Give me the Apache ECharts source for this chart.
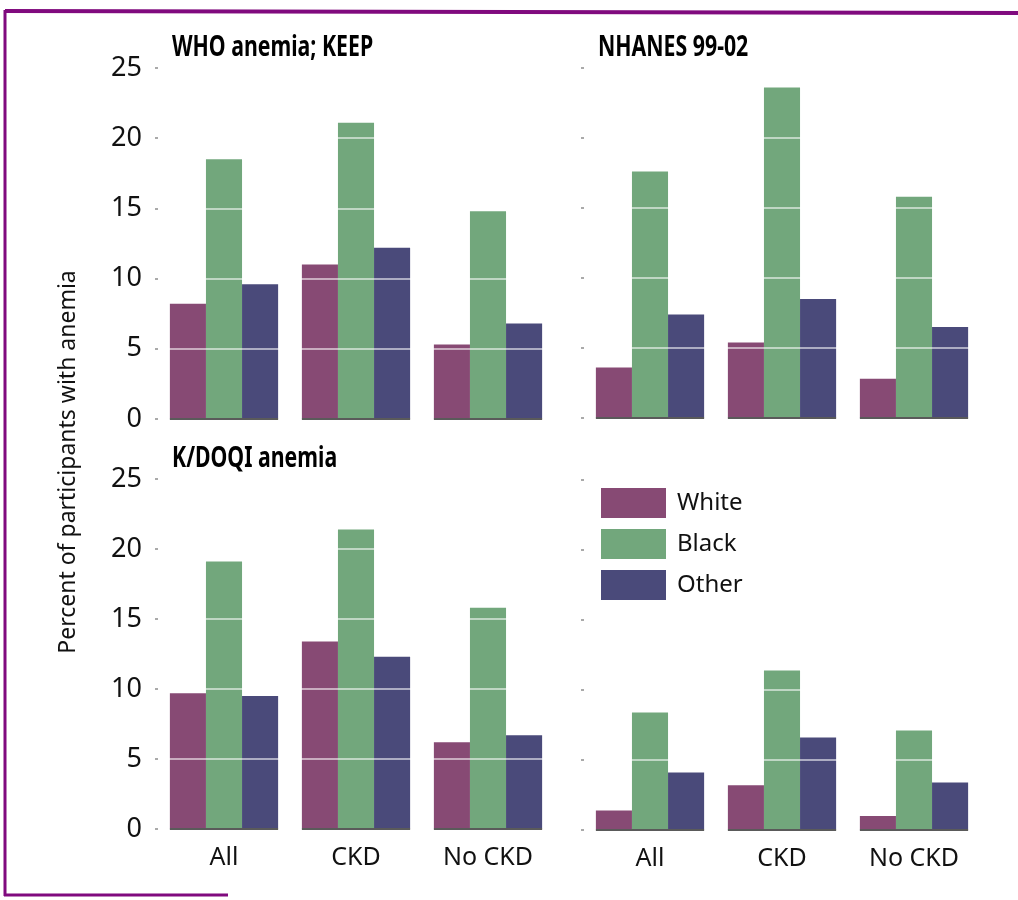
<!DOCTYPE html>
<html>
<head>
<meta charset="utf-8">
<script src="https://cdn.jsdelivr.net/npm/echarts@6/dist/echarts.min.js"></script>
<style>
  html, body { margin: 0; padding: 0; background: #fff; }
  #chart { width: 1018px; height: 900px; }
</style>
</head>
<body>
<div id="chart"></div>
<script>
// categories and tick labels
const groups = ["All", "CKD", "No CKD"];
const races = ["White", "Black", "Other"];
const yTicks = [0, 5, 10, 15, 20, 25];

// panel titles (top-left, top-right, bottom-left, bottom-right)
const panelTitles = ["WHO anemia; KEEP", "NHANES 99-02", "K/DOQI anemia", ""];

// percent with anemia, one array per race, order: All, CKD, No CKD
const keepWhoWhite = [8.2, 11.0, 5.3];
const keepWhoBlack = [18.5, 21.1, 14.8];
const keepWhoOther = [9.6, 12.2, 6.8];

const nhanesWhoWhite = [3.6, 5.4, 2.8];
const nhanesWhoBlack = [17.6, 23.6, 15.8];
const nhanesWhoOther = [7.4, 8.5, 6.5];

const keepKdoqiWhite = [9.7, 13.4, 6.2];
const keepKdoqiBlack = [19.1, 21.4, 15.8];
const keepKdoqiOther = [9.5, 12.3, 6.7];

const nhanesKdoqiWhite = [1.4, 3.2, 1.0];
const nhanesKdoqiBlack = [8.4, 11.4, 7.1];
const nhanesKdoqiOther = [4.1, 6.6, 3.4];

const panels = [
  [keepWhoWhite, keepWhoBlack, keepWhoOther],
  [nhanesWhoWhite, nhanesWhoBlack, nhanesWhoOther],
  [keepKdoqiWhite, keepKdoqiBlack, keepKdoqiOther],
  [nhanesKdoqiWhite, nhanesKdoqiBlack, nhanesKdoqiOther],
];

const colors = ["#874a74", "#72a77c", "#4a4a7a"];
const font = "'Noto Sans', 'DejaVu Sans', sans-serif";

// grid boxes
const gridPos = [
  { left: 158, top: 68, width: 396, height: 351 },
  { left: 584, top: 68, width: 396, height: 350 },
  { left: 158, top: 479, width: 396, height: 350 },
  { left: 584, top: 480, width: 396, height: 350 },
];

var chart = echarts.init(document.getElementById("chart"));

let xAxes = [], yAxes = [], series = [], titleTexts = [];
gridPos.forEach((g, i) => {
  const isLeft = i % 2 === 0;
  const isBottom = i >= 2;
  xAxes.push({
    type: "category",
    gridIndex: i,
    data: groups,
    axisLine: { show: false },
    axisTick: { show: false },
    axisLabel: {
      show: isBottom,
      color: "#111",
      fontSize: 25,
      fontFamily: font,
      margin: 16,
    },
  });
  yAxes.push({
    type: "value",
    gridIndex: i,
    min: 0,
    max: 25,
    interval: 5,
    z: 10,
    axisLine: { show: false },
    axisTick: { show: true, length: 3, lineStyle: { color: "#aaa", width: 2 } },
    splitLine: { show: true, lineStyle: { color: "rgba(255,255,255,0.55)", width: 2 } },
    axisLabel: {
      show: isLeft,
      color: "#111",
      fontSize: 27,
      fontFamily: font,
      margin: 16,
      formatter: (v) => (yTicks.includes(v) ? String(v) : ""),
    },
  });
  races.forEach((r, k) => {
    series.push({
      name: r,
      type: "bar",
      xAxisIndex: i,
      yAxisIndex: i,
      data: panels[i][k],
      barGap: "0%",
      barCategoryGap: "18%",
      itemStyle: { color: colors[k] },
    });
  });
  // baseline under each group of bars
  series.push({
    type: "custom",
    xAxisIndex: i,
    yAxisIndex: i,
    data: groups.map((_, j) => [j, 0]),
    z: 11,
    renderItem: function (params, api) {
      const p = api.coord([api.value(0), 0]);
      const w = api.size([1, 0])[0] * 0.82;
      return {
        type: "line",
        shape: { x1: p[0] - w / 2, y1: p[1], x2: p[0] + w / 2, y2: p[1] },
        style: { stroke: "#5a5a5a", lineWidth: 2 },
      };
    },
  });
  if (panelTitles[i]) {
    // condensed bold title, squeezed horizontally
    titleTexts.push({
      type: "text",
      x: g.left + 14,
      y: g.top - 34,
      scaleX: 0.76,
      style: {
        text: panelTitles[i],
        fontSize: 28,
        fontWeight: "bold",
        fontFamily: font,
        fill: "#000",
      },
    });
  }
});

var option = {
  animation: false,
  backgroundColor: "#fff",
  legend: {
    data: races,
    orient: "vertical",
    left: 596,
    top: 483,
    z: 20,
    itemWidth: 65,
    itemHeight: 30,
    itemGap: 11,
    icon: "rect",
    textStyle: { fontSize: 24, fontFamily: font, color: "#111", padding: [0, 0, 0, 6] },
  },
  grid: gridPos,
  xAxis: xAxes,
  yAxis: yAxes,
  series: series,
  graphic: titleTexts.concat([
    {
      type: "text",
      x: 68,
      y: 462,
      rotation: Math.PI / 2,
      style: {
        text: "Percent of participants with anemia",
        fontSize: 23,
        fontFamily: font,
        fill: "#111",
        align: "center",
        verticalAlign: "middle",
      },
    },
    // purple frame
    { type: "line", shape: { x1: 5, y1: 11, x2: 1018, y2: 13 }, style: { stroke: "#800a7e", lineWidth: 4 } },
    { type: "line", shape: { x1: 5, y1: 10, x2: 5, y2: 896 }, style: { stroke: "#800a7e", lineWidth: 3 } },
    { type: "line", shape: { x1: 4, y1: 895, x2: 228, y2: 895 }, style: { stroke: "#800a7e", lineWidth: 3 } },
  ]),
};

option && chart.setOption(option);
</script>
</body>
</html>
